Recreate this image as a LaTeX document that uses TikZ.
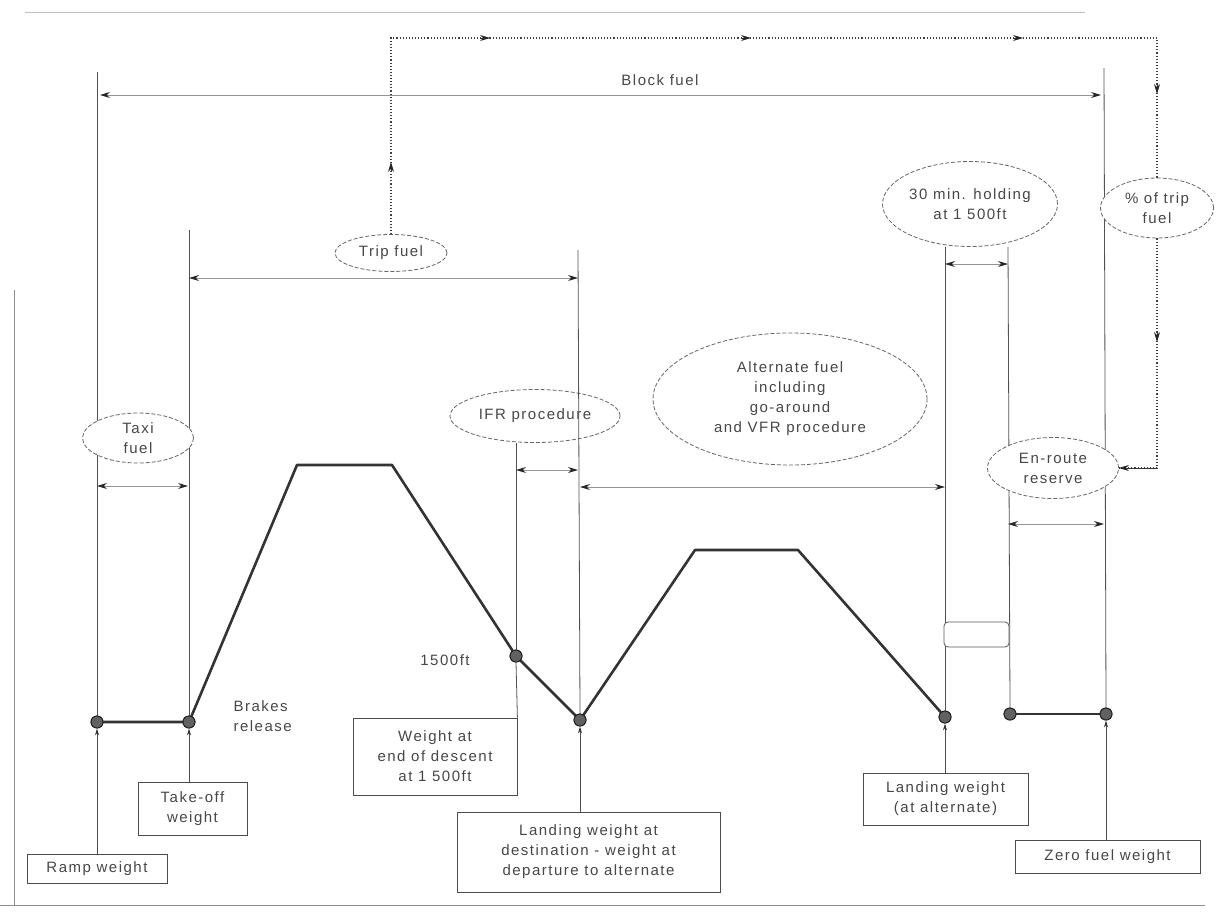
\documentclass[tikz,border=0pt]{standalone}
\usepackage{fontspec}
\setmainfont{Liberation Sans}[LetterSpace=10]
\usetikzlibrary{shapes.geometric,arrows.meta}
\begin{document}
\begin{tikzpicture}[x=1pt,y=-1pt,
  txt/.style={font=\fontsize{15}{20}\selectfont, text=black!72, align=center},
  lbox/.style={draw=black!70, line width=0.8pt, fill=white, txt, inner sep=0pt},
  ell/.style={draw=black!60, dashed, dash pattern=on 4pt off 2pt, line width=0.8pt, fill=white, ellipse, inner sep=0pt, txt},
  wdot/.style={circle, fill=black!62, draw=black!88, line width=0.9pt, minimum size=12pt, inner sep=0pt},
  vline/.style={draw=black!68, line width=0.8pt},
  prof/.style={draw=black!80, line width=2.6pt, line join=round},
  dim/.style={draw=black!42, line width=1pt, {Stealth[length=10pt,width=6pt,black!85]}-{Stealth[length=10pt,width=6pt,black!85]}},
  uparr/.style={draw=black!70, line width=0.8pt, -{Stealth[length=7pt,width=4pt,black!80]}},
  flow/.style={draw=black!75, line width=1.1pt, dotted},
  flowtip/.style={draw=black!80, line width=0.8pt, -{Stealth[length=10pt,width=6pt,black!85]}},
  frame/.style={draw=black!45, line width=1pt},
]
\useasboundingbox (0,0) rectangle (1217,911);

% scan frame
\draw[frame, draw=black!25] (25,12) -- (1085,12);
\draw[frame] (14,290) -- (14,905);
\draw[frame] (0,905) -- (1205,905);

% dots on the flight profile
\node[wdot] (d1) at (97,722) {};
\node[wdot] (d2) at (189,722) {};
\node[wdot] (d3) at (516,656) {};
\node[wdot] (d4) at (580,720) {};
\node[wdot] (d5) at (945,717) {};
\node[wdot] (d6) at (1010,714) {};
\node[wdot] (d7) at (1106,714) {};

% top end points of the vertical lines
\coordinate (t1) at (97,72);
\coordinate (t2) at (189,230);
\coordinate (t4) at (578,250);
\coordinate (t7) at (1104,68);

% ellipses whose lines start at their rims
\node[ell, minimum width=112, minimum height=37] (trip) at (391,253) {Trip fuel};
\node[ell, minimum width=170, minimum height=53] (ifr) at (535,416) {IFR procedure};
\node[ell, minimum width=274, minimum height=132] (alt) at (790,399) {Alternate fuel\\including\\go-around\\and VFR procedure};
\node[ell, minimum width=175, minimum height=85] (hold) at (970,204) {30 min. holding\\at 1 500ft};

% vertical lines
\draw[vline] (t1) -- (d1.north);
\draw[vline] (t2) -- (d2.north);
\draw[vline] (t4) -- (d4.north);
\draw[vline] (d3.north |- ifr.south) -- (d3.north);
\draw[vline] (945,0 |- hold.south) -- (d5.north);
\draw[vline] (1008,0 |- hold.south) -- (d6.north);
\draw[vline] (t7) -- (d7.north);

% ellipses lying over lines
\node[ell, minimum width=111, minimum height=50] (taxi) at (138,438) {Taxi\\fuel};
\node[ell, minimum width=113, minimum height=60] (pct) at (1157,208) {\% of trip\\fuel};
\node[ell, minimum width=131, minimum height=61] (enr) at (1053,468) {En-route\\reserve};

% small rounded box between holding lines
\node[draw=black!65, line width=0.8pt, rounded corners=4pt, fill=white, minimum width=65, minimum height=25, inner sep=0pt] (rb) at (976.5,634.5) {};

% flight profile
\draw[prof] (d1.center) -- (d2.center) -- (297,465) -- (392,465) -- (d3.center) -- (d4.center) -- (695,550) -- (798,550) -- (d5.center);
\draw[prof] (d6.center) -- (d7.center);
\foreach \p in {d1,d2,d3,d4,d5,d6,d7} \node[wdot] at (\p.center) {};

% dimension arrows
\draw[dim] (100,95) -- (1101,95);
\node[txt] (blk) at (660,80) {Block fuel};
\draw[dim] (d2.center |- 0,278) -- (t4 |- 0,278);
\draw[dim] (d1.center |- 0,486) -- (188,486);
\draw[dim] (d3.center |- 0,470) -- (t4 |- 0,470);
\draw[dim] (d4.center |- 0,487) -- (945,487);
\draw[dim] (945,264) -- (1008,264);
\draw[dim] (1008,524) -- (1104,524);

% dotted flow: trip fuel -> % of trip fuel -> en-route reserve
\coordinate (c1) at (391,38);
\coordinate (c2) at (1157,38);
\coordinate (c3) at (1157,468);
\draw[flow] (trip.north) -- (c1) -- (c2) -- (pct.north);
\draw[flow] (pct.south) -- (c3) -- (enr.east);
\draw[flowtip] (c3) -- (enr.east);
\draw[flowtip] (480,38) -- (490,38);
\draw[flowtip] (741,38) -- (751,38);
\draw[flowtip] (1013,38) -- (1023,38);
\draw[flowtip] (1157,84) -- (1157,94);
\draw[flowtip] (1157,332) -- (1157,342);
\draw[flowtip] (391,172) -- (391,162);

% labels
\node[txt, align=left, anchor=west] (brk) at (230,716) {Brakes\\release};
\node[txt] (alt1500) at (445,660) {1500ft};

% boxes
\node[lbox, minimum width=140, minimum height=29] (ramp) at (97,868.5) {Ramp weight};
\node[lbox, minimum width=109, minimum height=53] (tow) at (192.5,808.5) {Take-off\\weight};
\node[lbox, minimum width=164, minimum height=77] (eod) at (435,756.5) {Weight at\\end of descent\\at 1 500ft};
\node[lbox, minimum width=263, minimum height=80] (ldw) at (588.5,852) {Landing weight at\\destination - weight at\\departure to alternate};
\node[lbox, minimum width=165, minimum height=52] (lwa) at (945.5,799) {Landing weight\\(at alternate)};
\node[lbox, minimum width=185, minimum height=33] (zfw) at (1107.5,856.5) {Zero fuel weight};

% connectors from boxes to dots
\draw[uparr] (ramp.north) -- (d1.south);
\draw[uparr] (d2.south |- tow.north) -- (d2.south);
\draw[vline] (d3.south) -- (eod.north east);
\draw[uparr] (d4.south |- ldw.north) -- (d4.south);
\draw[uparr] (d5.south |- lwa.north) -- (d5.south);
\draw[uparr] (d7.south |- zfw.north) -- (d7.south);
\end{tikzpicture}
\end{document}
